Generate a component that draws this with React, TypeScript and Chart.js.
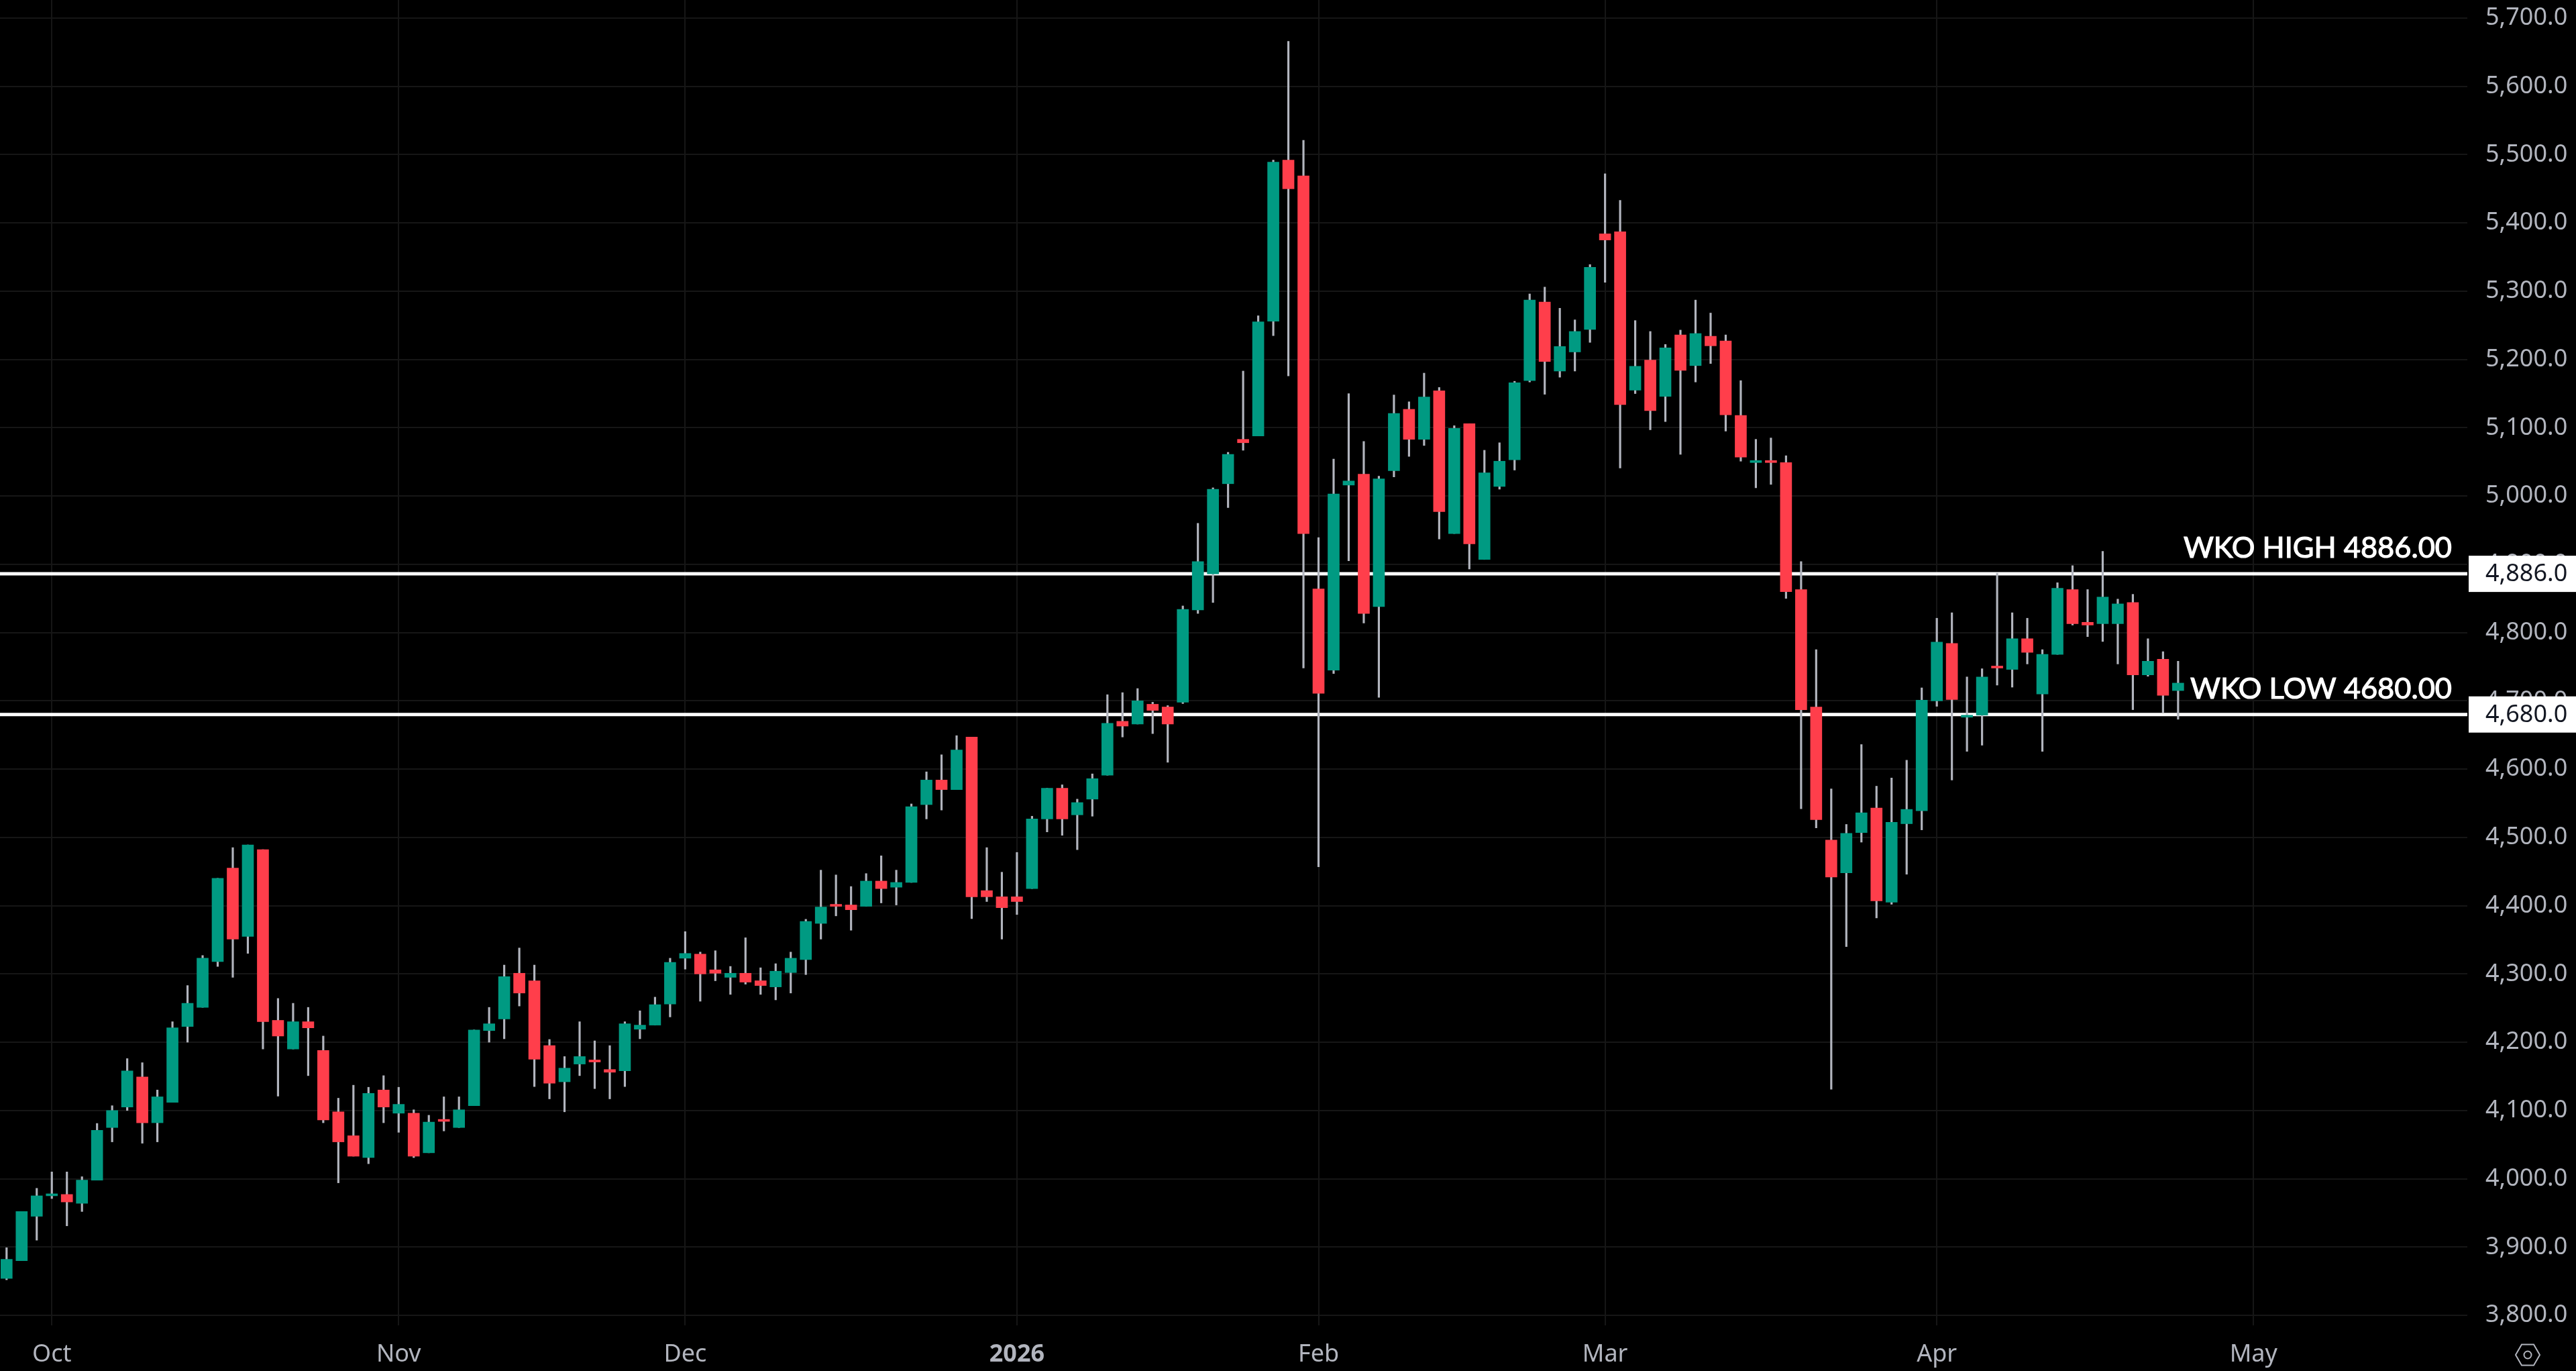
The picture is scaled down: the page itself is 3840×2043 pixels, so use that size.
import React, { useEffect, useRef } from "react";
import { Chart, registerables } from "chart.js";

Chart.register(...registerables);

const opens = [3854,3880,3945,3975,3977,3964,3998,4075,4105,4149,4082,4112,4223,4251,4318,4455,4355,4482,4232,4190,4230,4188,4098,4063,4031,4130,4096,4096,4038,4086,4075,4107,4217,4234,4301,4290,4195,4142,4168,4174,4160,4158,4219,4225,4256,4323,4329,4306,4295,4301,4290,4281,4302,4321,4374,4401,4401,4399,4436,4427,4434,4548,4584,4570,4647,4422,4413,4413,4425,4527,4572,4533,4556,4591,4670,4666,4695,4691,4698,4833,4886,5018,5083,5088,5256,5492,5469,4864,4745,5016,5032,4838,5037,5127,5083,5154,4945,5106,4907,5014,5053,5169,5284,5183,5211,5244,5384,5387,5155,5199,5146,5236,5191,5234,5227,5118,5049,5051,5049,4863,4691,4496,4448,4507,4543,4405,4520,4539,4700,4784,4676,4679,4750,4746,4791,4710,4768,4863,4815,4813,4813,4844,4738,4761,4715];
const highs = [3899,3952,3986,4010,4010,4003,4081,4107,4176,4170,4130,4230,4283,4327,4440,4485,4489,4482,4264,4257,4251,4209,4118,4137,4134,4151,4134,4101,4093,4120,4120,4218,4251,4313,4338,4313,4204,4179,4230,4202,4195,4230,4246,4266,4323,4362,4332,4334,4311,4353,4309,4315,4332,4380,4452,4445,4428,4447,4473,4452,4549,4596,4621,4649,4647,4485,4449,4478,4531,4572,4577,4556,4593,4709,4712,4718,4698,4693,4839,4960,5012,5064,5183,5264,5492,5666,5521,4939,5054,5150,5080,5029,5148,5138,5180,5159,5103,5106,5067,5078,5168,5296,5306,5275,5258,5339,5472,5433,5257,5241,5222,5243,5287,5268,5236,5169,5083,5085,5059,4904,4775,4571,4519,4636,4575,4587,4613,4719,4821,4829,4735,4747,4887,4829,4821,4775,4873,4898,4863,4919,4849,4856,4791,4772,4758];
const lows = [3852,3880,3910,3971,3931,3952,3998,4054,4100,4052,4054,4112,4200,4251,4311,4295,4330,4190,4121,4190,4151,4082,3994,4033,4022,4082,4068,4031,4038,4070,4075,4107,4200,4205,4253,4135,4117,4098,4151,4132,4117,4135,4205,4225,4237,4307,4260,4290,4270,4285,4270,4262,4272,4299,4351,4385,4364,4399,4404,4401,4434,4527,4540,4570,4381,4406,4351,4387,4425,4508,4503,4482,4531,4591,4647,4666,4652,4610,4696,4828,4844,4983,5067,5088,5235,5176,4748,4457,4740,4905,4814,4705,5028,5058,5074,4937,4945,4893,4907,5010,5038,5167,5149,5174,5183,5225,5313,5041,5150,5097,5109,5061,5167,5194,5095,5051,5012,5017,4850,4542,4514,4131,4340,4493,4382,4402,4446,4511,4692,4584,4626,4635,4723,4720,4754,4626,4768,4811,4794,4787,4754,4687,4736,4683,4673];
const closes = [3882,3952,3975,3977,3966,3998,4071,4100,4158,4082,4120,4221,4257,4323,4440,4351,4489,4230,4209,4230,4221,4086,4054,4033,4125,4105,4109,4033,4083,4084,4101,4218,4227,4296,4272,4175,4140,4162,4179,4171,4156,4227,4225,4255,4317,4330,4300,4301,4301,4288,4283,4304,4323,4377,4398,4399,4394,4436,4425,4434,4545,4584,4570,4628,4413,4413,4397,4406,4527,4572,4527,4551,4586,4667,4663,4700,4686,4666,4834,4904,5010,5061,5078,5255,5489,5450,4945,4711,5003,5022,4828,5025,5121,5083,5145,4977,5099,4930,5034,5051,5166,5287,5197,5219,5241,5335,5375,5134,5190,5125,5217,5184,5238,5220,5119,5057,5051,5049,4860,4687,4526,4442,4506,4536,4407,4522,4541,4701,4786,4702,4678,4735,4748,4791,4771,4768,4865,4813,4811,4852,4842,4738,4758,4708,4726];

const monthTickIndex = [3, 26, 45, 67, 87, 106, 128, 149];
const monthTickLabels = ["Oct", "Nov", "Dec", "2026", "Feb", "Mar", "Apr", "May"];
const priceTicks = [3800,3900,4000,4100,4200,4300,4400,4500,4600,4700,4800,4900,5000,5100,5200,5300,5400,5500,5600,5700];

const wkoHigh = 4886;
const wkoLow = 4680;
const wkoLabels = ["WKO HIGH 4886.00", "WKO LOW 4680.00"];
const wkoAxisLabels = ["4,886.0", "4,680.0"];

const UP = "#009a82";
const DOWN = "#ff3e4b";
const WICK = "#b2b5be";
const GRID = "#161616";
const TEXT = "#b2b5be";
const AXIS_FONT = '"Noto Sans", sans-serif';

const xMin = -0.436;
const xMax = 163.18;

const overlay = {
  id: "overlay",
  afterDraw(chart: any) {
    const { ctx, scales } = chart;
    const y = scales.y;
    ctx.save();
    [wkoHigh, wkoLow].forEach((v, i) => {
      const py = y.getPixelForValue(v);
      ctx.fillStyle = "#ffffff";
      ctx.fillRect(3680, py - 27, 160, 54);
      ctx.fillStyle = "#131722";
      ctx.font = `36px ${AXIS_FONT}`;
      ctx.textAlign = "left";
      ctx.textBaseline = "middle";
      ctx.fillText(wkoAxisLabels[i], 3705, py + 1);
      ctx.fillStyle = "#ffffff";
      ctx.strokeStyle = "#ffffff";
      ctx.lineWidth = 1.2;
      ctx.font = '43.4px "Lato", sans-serif';
      ctx.textAlign = "right";
      ctx.textBaseline = "alphabetic";
      ctx.fillText(wkoLabels[i], 3655, py - 24);
      ctx.strokeText(wkoLabels[i], 3655, py - 24);
    });
    // settings icon
    const cx = 3768, cy = 2019, r = 18;
    ctx.strokeStyle = TEXT;
    ctx.lineWidth = 2;
    ctx.beginPath();
    for (let a = 0; a < 6; a++) {
      const t = (a * Math.PI) / 3;
      const px = cx + r * Math.cos(t), qy = cy + r * Math.sin(t);
      a === 0 ? ctx.moveTo(px, qy) : ctx.lineTo(px, qy);
    }
    ctx.closePath();
    ctx.stroke();
    ctx.beginPath();
    ctx.arc(cx, cy, 5.5, 0, Math.PI * 2);
    ctx.stroke();
    ctx.restore();
  },
};

export default function App() {
  const ref = useRef<HTMLCanvasElement | null>(null);
  useEffect(() => {
    const idx = opens.map((_, i) => i);
    const chart = new Chart(ref.current as HTMLCanvasElement, {
      type: "bar",
      data: {
        datasets: [
          {
            label: "body",
            order: 0,
            grouped: false,
            barThickness: 17,
            minBarLength: 3,
            borderWidth: 0,
            data: idx.map((i) => ({ x: i, y: [opens[i], closes[i]] })),
            backgroundColor: idx.map((i) => (closes[i] >= opens[i] ? UP : DOWN)),
          },
          {
            label: "wick",
            order: 1,
            grouped: false,
            barThickness: 2.5,
            borderWidth: 0,
            data: idx.map((i) => ({ x: i, y: [lows[i], highs[i]] })),
            backgroundColor: WICK,
          },
          {
            type: "line",
            label: "WKO HIGH",
            order: 2,
            data: [{ x: xMin, y: wkoHigh }, { x: xMax, y: wkoHigh }],
            borderColor: "#ffffff",
            borderWidth: 5,
            pointRadius: 0,
          },
          {
            type: "line",
            label: "WKO LOW",
            order: 2,
            data: [{ x: xMin, y: wkoLow }, { x: xMax, y: wkoLow }],
            borderColor: "#ffffff",
            borderWidth: 5,
            pointRadius: 0,
          },
        ] as any,
      },
      options: {
        responsive: false,
        animation: false,
        devicePixelRatio: 1,
        layout: { padding: 0 },
        plugins: { legend: { display: false }, tooltip: { enabled: false } },
        scales: {
          x: {
            type: "linear",
            offset: false,
            min: xMin,
            max: xMax,
            border: { display: false },
            grid: { color: GRID, lineWidth: 2, drawTicks: false, offset: false },
            afterBuildTicks(s: any) {
              s.ticks = monthTickIndex.map((value) => ({ value }));
            },
            afterFit(s: any) {
              s.height = 68;
              s.paddingLeft = 0;
              s.paddingRight = 0;
            },
            ticks: {
              autoSkip: false,
              maxRotation: 0,
              padding: 22,
              color: TEXT,
              font: (c: any) => ({
                family: AXIS_FONT,
                size: 36,
                weight: c.tick && c.tick.value === 67 ? "bold" : "normal",
              }),
              callback: (v: any) => monthTickLabels[monthTickIndex.indexOf(v)] ?? "",
            },
          },
          y: {
            position: "right",
            min: 3785.25,
            max: 5726.5,
            border: { display: false },
            grid: { color: GRID, lineWidth: 2, drawTicks: false },
            afterBuildTicks(s: any) {
              s.ticks = priceTicks.map((value) => ({ value }));
            },
            afterFit(s: any) {
              s.width = 162;
              s.paddingTop = 0;
              s.paddingBottom = 0;
            },
            ticks: {
              autoSkip: false,
              padding: 27,
              color: TEXT,
              font: { family: AXIS_FONT, size: 36 },
              callback: (v: any) =>
                Number(v).toLocaleString("en-US", { minimumFractionDigits: 1, maximumFractionDigits: 1 }),
            },
          },
        },
      } as any,
      plugins: [overlay],
    });
    return () => chart.destroy();
  }, []);
  return (
    <div style={{ position: "fixed", left: 0, top: 0, width: 3840, height: 2043, background: "#000" }}>
      <canvas ref={ref} width={3840} height={2043} style={{ display: "block", width: 3840, height: 2043 }} />
    </div>
  );
}
